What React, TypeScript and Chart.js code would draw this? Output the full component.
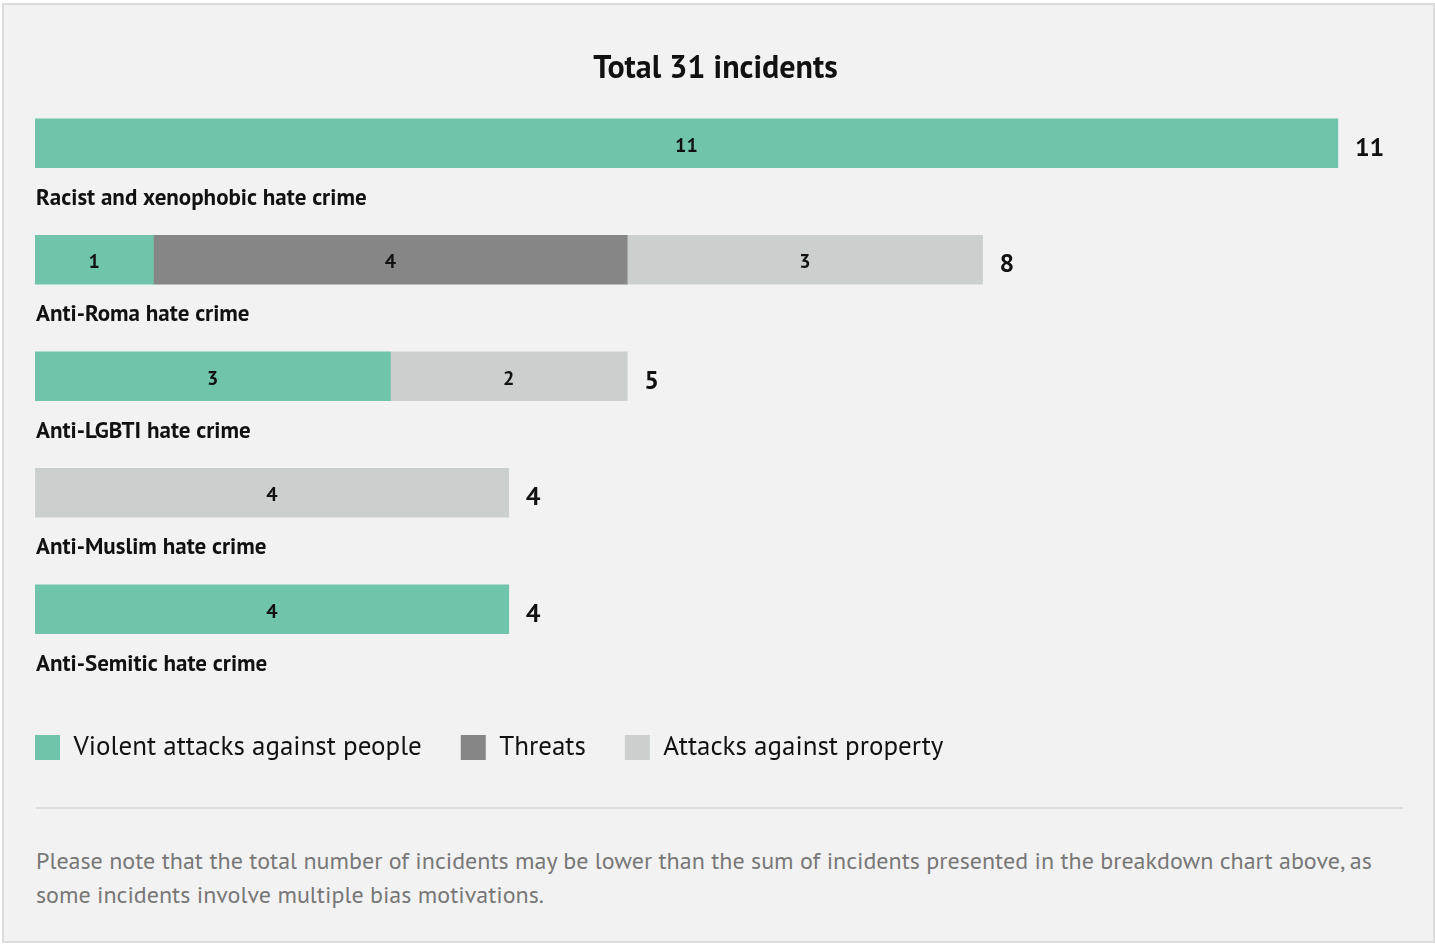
import React, { useEffect, useRef } from "react";
import { Chart, registerables } from "chart.js";

Chart.register(...registerables);

const categories = [
  "Racist and xenophobic hate crime",
  "Anti-Roma hate crime",
  "Anti-LGBTI hate crime",
  "Anti-Muslim hate crime",
  "Anti-Semitic hate crime",
];
const violentAttacks = [11, 1, 3, 0, 4];
const threats = [0, 4, 0, 0, 0];
const propertyAttacks = [0, 3, 2, 4, 0];
const seriesNames = ["Violent attacks against people", "Threats", "Attacks against property"];
const seriesColors = ["#6FC4AB", "#868686", "#CBCFCD"];
const titleText = "Total 31 incidents";
const noteLines = [
  "Please note that the total number of incidents may be lower than the sum of incidents presented in the breakdown chart above, as",
  "some incidents involve multiple bias motivations.",
];
const axisMax = 11.82;

const FONT = "'PT Sans', Lato, 'Noto Sans', sans-serif";

const labelsPlugin = {
  id: "barLabels",
  afterDatasetsDraw(chart: any) {
    const ctx = chart.ctx;
    const xs = chart.scales.x;
    const ys = chart.scales.y;
    ctx.save();
    ctx.fillStyle = "#111";
    ctx.textBaseline = "middle";
    ctx.textAlign = "center";
    ctx.font = `bold 20px ${FONT}`;
    chart.data.datasets.forEach((ds: any, di: number) => {
      const meta = chart.getDatasetMeta(di);
      meta.data.forEach((el: any, i: number) => {
        const v = ds.data[i];
        if (!v) return;
        const { x, base, y } = el.getProps(["x", "base", "y"], true);
        ctx.fillText(String(v), (x + base) / 2, y + 3);
      });
    });
    categories.forEach((cat, i) => {
      const total = chart.data.datasets.reduce((s: number, ds: any) => s + (ds.data[i] || 0), 0);
      const yc = ys.getPixelForValue(i);
      ctx.textAlign = "left";
      ctx.font = `bold 26px ${FONT}`;
      ctx.fillText(String(total), xs.getPixelForValue(total) + 17, yc + 5);
      ctx.font = `bold 23px ${FONT}`;
      ctx.fillText(cat, chart.chartArea.left + 1, yc + 55);
    });
    ctx.restore();
  },
};

export default function App() {
  const ref = useRef<HTMLCanvasElement | null>(null);

  useEffect(() => {
    document.body.style.margin = "0";
    const dataSets = [violentAttacks, threats, propertyAttacks];
    const chart = new Chart(ref.current as HTMLCanvasElement, {
      type: "bar",
      data: {
        labels: categories,
        datasets: dataSets.map((d, i) => ({
          label: seriesNames[i],
          data: d.map((v) => (v === 0 ? null : v)),
          backgroundColor: seriesColors[i],
          borderWidth: 0,
          barThickness: 49,
        })),
      },
      options: {
        indexAxis: "y",
        animation: false,
        responsive: false,
        devicePixelRatio: 1,
        layout: { padding: { left: -4, right: 0, top: 0, bottom: 9 } },
        scales: {
          x: {
            stacked: true,
            min: 0,
            max: axisMax,
            grid: { display: false },
            border: { display: false },
            ticks: { display: false },
            afterFit: (s: any) => {
              s.height = 27.5;
            },
          },
          y: {
            stacked: true,
            grid: { display: false },
            border: { display: false },
            ticks: { display: false },
            afterFit: (s: any) => {
              s.width = 39;
            },
          },
        },
        plugins: {
          tooltip: { enabled: false },
          title: {
            display: true,
            text: titleText,
            color: "#111",
            font: { family: FONT, size: 32, weight: "bold", lineHeight: 1.125 },
            padding: { top: 51, bottom: -2 },
          },
          legend: {
            display: true,
            position: "bottom",
            align: "start",
            labels: {
              boxWidth: 25,
              boxHeight: 25,
              padding: 39,
              color: "#111",
              font: { family: FONT, size: 27 },
            },
          },
        },
      },
      plugins: [labelsPlugin],
    } as any);
    return () => chart.destroy();
  }, []);

  return (
    <div style={{ position: "absolute", left: 0, top: 0, width: 1435, height: 944, fontFamily: FONT }}>
      <div
        style={{
          position: "absolute",
          left: 2,
          top: 3,
          width: 1433,
          height: 940,
          boxSizing: "border-box",
          border: "2px solid #DCDCDC",
          background: "#F2F2F2",
        }}
      />
      <canvas
        ref={ref}
        width={1435}
        height={780}
        style={{ position: "absolute", left: 0, top: 0, width: 1435, height: 780 }}
      />
      <div style={{ position: "absolute", left: 36, top: 807, width: 1367, height: 2, background: "#DDDDDD" }} />
      <div
        style={{
          position: "absolute",
          left: 36,
          top: 844,
          width: 1380,
          fontSize: 24,
          lineHeight: "34px",
          color: "#777",
          whiteSpace: "nowrap",
        }}
      >
        {noteLines.map((l, i) => (
          <div key={i}>{l}</div>
        ))}
      </div>
    </div>
  );
}
